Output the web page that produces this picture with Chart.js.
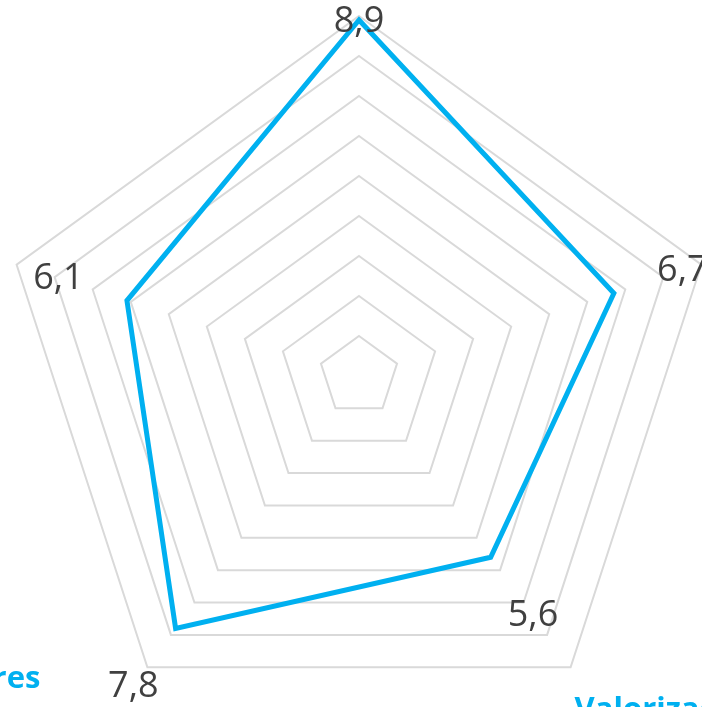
<!DOCTYPE html>
<html>
<head>
<meta charset="utf-8">
<script src="https://cdn.jsdelivr.net/npm/chart.js@4.4.0/dist/chart.umd.min.js"></script>
<style>
  html, body { margin: 0; padding: 0; width: 702px; height: 707px; overflow: hidden; background: #ffffff; }
  #wrap { position: absolute; left: -1px; top: -24px; width: 720px; height: 760px; }
</style>
</head>
<body>
<div id="wrap"><canvas id="c" width="720" height="760"></canvas></div>
<script>
// Data
const categories = ["Conocimientos", "Habilidades", "Valorización", "Familiares", "Actitudes"];
const values = [8.9, 6.7, 5.6, 7.8, 6.1];
const valueLabels = ["8,9", "6,7", "5,6", "7,8", "6,1"];
const scaleMin = 0;
const scaleMax = 9;
const scaleStep = 1;

const labelPlugin = {
  id: 'excelLabels',
  afterDatasetsDraw(chart, args, opts) {
    const scale = chart.scales.r;
    const ctx = chart.ctx;
    ctx.save();
    // value labels
    ctx.font = opts.valueFont;
    ctx.fillStyle = opts.valueColor;
    ctx.textAlign = 'center';
    ctx.textBaseline = 'middle';
    values.forEach((v, i) => {
      const d = scale.getDistanceFromCenterForValue(v) + opts.valueOffsets[i];
      const p = scale.getPointPosition(i, d);
      ctx.fillText(valueLabels[i], p.x, p.y);
    });
    // category labels
    ctx.font = opts.catFont;
    ctx.fillStyle = opts.catColor;
    ctx.textBaseline = 'alphabetic';
    categories.forEach((c, i) => {
      const p = scale.getPointPosition(i, scale.drawingArea);
      const o = opts.catOffsets[i];
      ctx.textAlign = o.align;
      ctx.fillText(c, p.x + o.dx, p.y + o.dy);
    });
    ctx.restore();
  }
};

new Chart(document.getElementById('c'), {
  type: 'radar',
  data: {
    labels: categories,
    datasets: [{
      data: values,
      borderColor: '#00B0F0',
      borderWidth: 5,
      fill: false,
      pointRadius: 0,
      pointHoverRadius: 0,
      tension: 0
    }]
  },
  options: {
    responsive: false,
    animation: false,
    layout: { padding: { top: 40, left: 0, right: 0, bottom: 0 } },
    plugins: {
      legend: { display: false },
      tooltip: { enabled: false },
      excelLabels: {
        valueFont: '36px "Open Sans"',
        valueColor: '#404040',
        valueOffsets: [-2, 72, 72, 72, 72],
        catFont: 'bold 31px "Open Sans"',
        catColor: '#00B0F0',
        catOffsets: [
          { dx: 0, dy: -70, align: 'center' },
          { dx: 40, dy: 0, align: 'left' },
          { dx: 4, dy: 52, align: 'left' },
          { dx: -107, dy: 21, align: 'right' },
          { dx: -40, dy: 0, align: 'right' }
        ]
      }
    },
    scales: {
      r: {
        min: scaleMin,
        max: scaleMax,
        ticks: { display: false, stepSize: scaleStep },
        grid: { color: '#d9d9d9', lineWidth: 2 },
        angleLines: { display: false },
        pointLabels: { display: false }
      }
    }
  },
  plugins: [labelPlugin]
});
</script>
</body>
</html>
